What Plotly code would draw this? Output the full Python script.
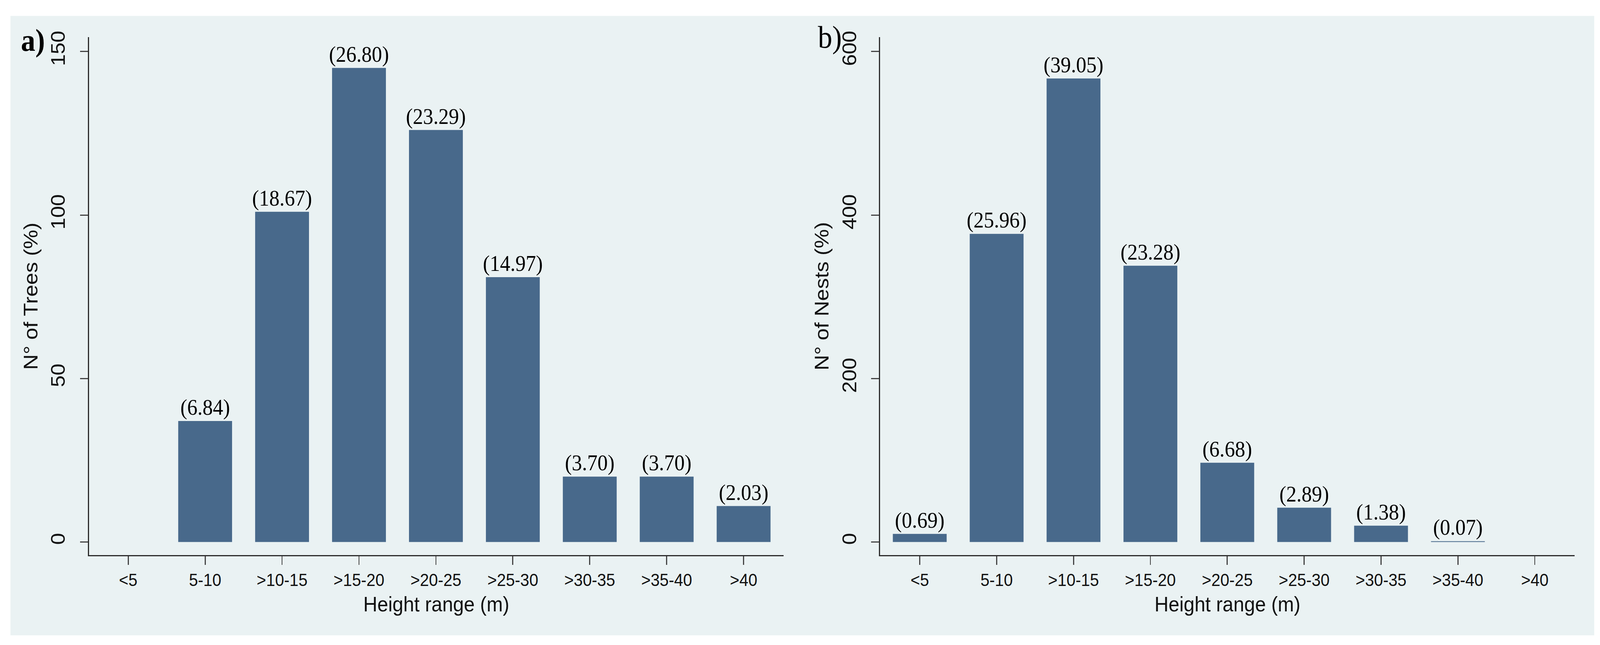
import plotly.graph_objects as go

# ---- data ----
categories = ["<5", "5-10", ">10-15", ">15-20", ">20-25", ">25-30", ">30-35", ">35-40", ">40"]
trees = [0, 37, 101, 145, 126, 81, 20, 20, 11]
trees_labels = ["", "(6.84)", "(18.67)", "(26.80)", "(23.29)", "(14.97)", "(3.70)", "(3.70)", "(2.03)"]
nests = [10, 377, 567, 338, 97, 42, 20, 1, 0]
nests_labels = ["(0.69)", "(25.96)", "(39.05)", "(23.28)", "(6.68)", "(2.89)", "(1.38)", "(0.07)", ""]
trees_yticks = [0, 50, 100, 150]
nests_yticks = [0, 200, 400, 600]

W, H = 4441, 1650
BAR = "#48698B"
BG = "#EAF2F3"
SANS = "Liberation Sans, Arial, sans-serif"
SERIF = "Liberation Serif, Times New Roman, serif"

fig = go.Figure()

for vals, labs, xa, ya in [(trees, trees_labels, "x", "y"), (nests, nests_labels, "x2", "y2")]:
    fig.add_trace(go.Bar(
        x=categories, y=vals, text=labs, textposition="outside",
        textfont=dict(family=SERIF, size=57, color="black"),
        constraintext="none", cliponaxis=False,
        marker=dict(color=BAR, line=dict(width=0)),
        width=0.7, xaxis=xa, yaxis=ya, showlegend=False, hoverinfo="skip",
    ))

def px_x(p):
    return p / W

def px_y(p):
    return 1 - p / H

common_x = dict(
    type="category", showline=True, linecolor="#2b2b2b", linewidth=3,
    ticks="outside", ticklen=22, tickwidth=3, tickcolor="#444",
    tickfont=dict(family=SANS, size=45, color="#111"),
    showgrid=False, zeroline=False,
    title=dict(text="Height range (m)", font=dict(family=SANS, size=54, color="#111"), standoff=18),
)
common_y = dict(
    showline=True, linecolor="#2b2b2b", linewidth=3,
    ticks="outside", ticklen=22, tickwidth=3, tickcolor="#444",
    tickfont=dict(family=SANS, size=54, color="#111"), tickangle=-90,
    showgrid=True, gridcolor=BG, gridwidth=5, zeroline=False,
    ticklabelstandoff=20,
)

ydom = [px_y(1418), px_y(80)]

fig.update_layout(
    width=W, height=H,
    margin=dict(l=0, r=0, t=0, b=0),
    paper_bgcolor="white", plot_bgcolor="white",
    bargap=0.3,
    xaxis=dict(common_x, domain=[px_x(247), px_x(2175)], range=[-0.51, 8.52], anchor="y"),
    yaxis=dict(common_y, domain=ydom, range=[-4.03, 154.38], tickvals=trees_yticks, anchor="x",
               title=dict(text="N° of Trees (%)", font=dict(family=SANS, size=55, color="#111"), standoff=10)),
    xaxis2=dict(common_x, domain=[px_x(2443), px_x(4371)], range=[-0.515, 8.52], anchor="y2"),
    yaxis2=dict(common_y, domain=ydom, range=[-16.1, 617.5], tickvals=nests_yticks, anchor="x2",
                title=dict(text="N° of Nests (%)", font=dict(family=SANS, size=55, color="#111"), standoff=10)),
    shapes=[dict(type="rect", xref="paper", yref="paper", layer="below",
                 x0=px_x(29), x1=px_x(4425), y0=px_y(1625), y1=px_y(25),
                 fillcolor=BG, line=dict(width=0))],
    annotations=[
        dict(text="<b>a)</b>", x=px_x(91), y=px_y(88), xref="paper", yref="paper",
             showarrow=False, xanchor="center", yanchor="middle",
             font=dict(family=SERIF, size=80, color="black")),
        dict(text="b)", x=px_x(2303), y=px_y(80), xref="paper", yref="paper",
             showarrow=False, xanchor="center", yanchor="middle",
             font=dict(family=SERIF, size=80, color="black")),
    ],
)

# Fit the fixed-size figure into whatever viewport the browser actually provides.
fit_js = """
(function(){
  var gd = document.getElementById('{plot_id}');
  document.documentElement.style.margin = '0';
  document.documentElement.style.overflow = 'hidden';
  document.body.style.margin = '0';
  document.body.style.overflow = 'hidden';
  function fit(){
    var sx = window.innerWidth / %d, sy = window.innerHeight / %d;
    gd.style.transformOrigin = '0 0';
    gd.style.transform = 'scale(' + sx + ',' + sy + ')';
  }
  fit();
  window.addEventListener('resize', fit);
})();
""" % (W, H)

fig.write_html("out.html", post_script=fit_js, config={"displayModeBar": False})
